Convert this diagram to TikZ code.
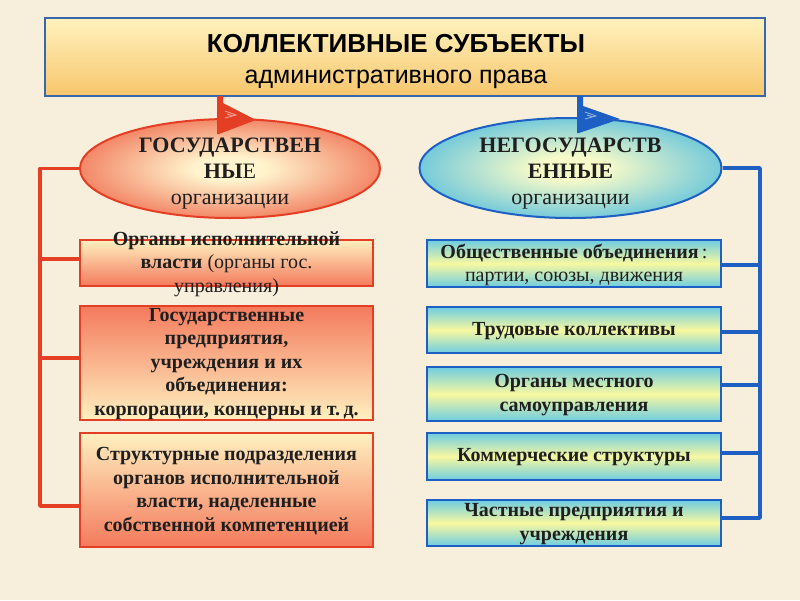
\documentclass[tikz,border=0pt]{standalone}
\usepackage{fontspec}
\setmainfont{Liberation Serif}
\newfontfamily\sansf{Liberation Sans}
\usetikzlibrary{shapes.geometric}
\definecolor{bg}{RGB}{248,238,220}
\definecolor{redc}{RGB}{228,62,36}
\definecolor{bluec}{RGB}{30,95,195}
\definecolor{tborder}{RGB}{55,105,170}
\definecolor{paley}{RGB}{255,240,192}
\definecolor{salmon}{RGB}{244,122,92}
\definecolor{cyanb}{RGB}{110,205,225}
\definecolor{yelb}{RGB}{248,248,160}
\definecolor{ecenter}{RGB}{255,244,205}
\definecolor{eredge}{RGB}{240,112,82}
\definecolor{bcenter}{RGB}{246,250,200}
\definecolor{bedge}{RGB}{90,192,222}
\pgfdeclareradialshading{ellred}{\pgfpoint{0bp}{0bp}}{color(0bp)=(ecenter); color(6bp)=(ecenter); color(29bp)=(eredge); color(50bp)=(eredge)}
\pgfdeclareradialshading{ellblue}{\pgfpoint{0bp}{0bp}}{color(0bp)=(bcenter); color(6bp)=(bcenter); color(29bp)=(bedge); color(50bp)=(bedge)}
\tikzset{
  titlebox/.style={draw=tborder, line width=2.2pt, top color={rgb,255:red,255;green,242;blue,190}, bottom color={rgb,255:red,247;green,198;blue,108}, minimum width=720, minimum height=78, inner sep=0},
  redell/.style={ellipse, draw=redc, line width=2pt, shading=ellred, minimum width=300, minimum height=99, inner sep=0},
  blueell/.style={ellipse, draw=bluec, line width=2pt, shading=ellblue, minimum width=302, minimum height=100, inner sep=0},
  lbox/.style={draw=redc, line width=2pt, minimum width=293, inner sep=0},
  ldown/.style={lbox, top color=paley, bottom color=salmon},
  lup/.style={lbox, top color=salmon, bottom color=paley},
  rbox/.style={draw=bluec, line width=2pt, minimum width=294, inner sep=0, top color=cyanb, bottom color=cyanb, middle color=yelb},
  boxtxt/.style={font=\bfseries\fontsize{20}{23.5}\selectfont, align=center, inner sep=0, text=black!88},
  elltxt/.style={font=\bfseries\fontsize{22}{26}\selectfont, align=center, inner sep=0, text=black!88},
  redline/.style={draw=redc, line width=3.5pt},
  blueline/.style={draw=bluec, line width=3.5pt},
}
\begin{document}
\begin{tikzpicture}[x=1pt,y=-1pt]
\fill[bg] (0,0) rectangle (800,600);
\useasboundingbox (0,0) rectangle (800,600);

% title
\node[titlebox] (T) at (405,57) {};
\node[font=\sansf\bfseries\fontsize{26}{30}\selectfont, anchor=base, inner sep=0] (T1) at (396,52) {КОЛЛЕКТИВНЫЕ СУБЪЕКТЫ};
\node[font=\sansf\fontsize{25}{30}\selectfont, anchor=base, inner sep=0] (T2) at (396,83) {административного права};

% ellipses
\node[redell] (E1) at (230,168.5) {};
\node[blueell] (E2) at (570.5,168) {};
\node[elltxt] (E1t) at (230,174) {ГОСУДАРСТВЕН\\НЫ{\mdseries Е}\\{\mdseries организации}};
\node[elltxt] (E2t) at (570.5,174) {НЕГОСУДАРСТВ\\ЕННЫЕ\\{\mdseries организации}};

% flag arrows
\fill[redc] (217,96) -- (223,96) -- (223,103) -- (256,120) -- (219,134) -- (217,134) -- cycle;
\draw[white, opacity=0.55, line width=0.8pt] (225,111) -- (236,115) -- (225,118) (227,114) -- (233,116);
\fill[bluec] (577,96) -- (583,96) -- (583,106) -- (620,119) -- (579,133) -- (577,133) -- cycle;
\draw[white, opacity=0.55, line width=0.8pt] (585,112) -- (596,116) -- (585,119) (587,115) -- (593,117);

% left boxes
\node[ldown, minimum height=46] (L1) at (226.5,263) {};
\node[lup, minimum height=114] (L2) at (226.5,363) {};
\node[ldown, minimum height=114] (L3) at (226.5,490) {};
\node[boxtxt] (L1t) at (226.5,264) {Органы исполнительной\\власти {\mdseries (органы гос.}\\{\mdseries управления)}};
\node[boxtxt] (L2t) at (226.5,364) {Государственные\\предприятия,\\учреждения и их\\объединения:\\корпорации, концерны и т.\,д.};
\node[boxtxt] (L3t) at (226.5,491) {Структурные подразделения\\органов исполнительной\\власти, наделенные\\собственной компетенцией};

% right boxes
\node[rbox, minimum height=47] (R1) at (574,263.5) {};
\node[rbox, minimum height=46] (R2) at (574,330) {};
\node[rbox, minimum height=54] (R3) at (574,394) {};
\node[rbox, minimum height=47] (R4) at (574,456.5) {};
\node[rbox, minimum height=46] (R5) at (574,523) {};
\node[boxtxt] (R1t) at (574,265) {Общественные объединения{\mdseries\,:}\\{\mdseries партии, союзы, движения}};
\node[boxtxt] (R2t) at (574,331) {Трудовые коллективы};
\node[boxtxt] (R3t) at (574,395) {Органы местного\\самоуправления};
\node[boxtxt] (R4t) at (574,457) {Коммерческие структуры};
\node[boxtxt] (R5t) at (574,524) {Частные предприятия и\\учреждения};

% left connectors
\coordinate (LV) at (40,168.5);
\coordinate (L1p) at ([yshift=4]L1.west);
\coordinate (L2p) at ([yshift=5]L2.west);
\coordinate (L3p) at ([yshift=-16]L3.west);
\draw[redline, line join=round] (E1.west) -- (LV) -- (LV |- L3p) -- (L3p);
\draw[redline] (L1p) -- (L1p -| LV);
\draw[redline] (L2p) -- (L2p -| LV);

% right connectors
\coordinate (RV) at (760,168);
\coordinate (R1p) at ([yshift=-1.5]R1.east);
\coordinate (R2p) at ([yshift=-2]R2.east);
\coordinate (R3p) at ([yshift=9]R3.east);
\coordinate (R4p) at ([yshift=3.5]R4.east);
\coordinate (R5p) at ([yshift=5]R5.east);
\draw[blueline, line join=round] (E2.east) -- (RV) -- (RV |- R5p) -- (R5p);
\draw[blueline] (R1p) -- (R1p -| RV);
\draw[blueline] (R2p) -- (R2p -| RV);
\draw[blueline] (R3p) -- (R3p -| RV);
\draw[blueline] (R4p) -- (R4p -| RV);
\end{tikzpicture}
\end{document}
